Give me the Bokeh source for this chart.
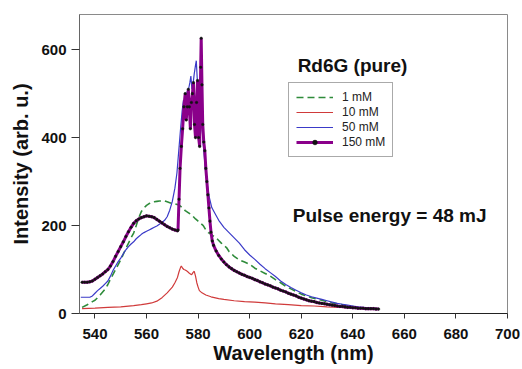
from bokeh.plotting import figure
from bokeh.models import Range1d, FixedTicker, Legend, LegendItem, Label
from bokeh.embed import file_html
from bokeh.resources import INLINE

# ---- data ----
wl_1mM = [535, 537, 539, 540, 542, 544, 545, 546, 548, 550, 552, 554, 555, 556, 557, 558, 559, 560,
          561, 562, 563, 564, 565, 566, 567, 568, 569, 570, 571, 572, 573, 574, 575, 576, 577, 578,
          579, 580, 581, 582, 583, 584, 585, 586, 587, 588, 589, 590, 591, 592, 594, 596, 598, 600,
          602, 604, 606, 608, 610, 612, 614, 616, 618, 620, 622, 624, 626, 628, 630, 632, 634, 636,
          638, 640, 642, 644, 646, 648, 650]
int_1mM = [14, 20, 27, 30, 42, 56, 66, 78, 100, 122, 148, 172, 183, 200, 218, 232, 240, 246,
           250, 252, 254, 255, 256, 256, 256, 254, 252, 250, 249, 248, 245, 240, 234, 230, 226, 221,
           215, 210, 205, 200, 190, 184, 180, 176, 172, 166, 160, 155, 150, 141, 130, 122, 117, 112,
           103, 97, 91, 85, 77, 70, 62, 56, 50, 44, 40, 36, 33, 30, 27, 24, 22, 20,
           17, 16, 14, 13, 12, 12, 11]

wl_10mM = [535, 540, 545, 550, 555, 558, 560, 562, 564, 566, 568, 570, 571, 572, 572.6, 573.2, 573.5,
           574, 574.5, 575, 575.5, 576, 576.5, 577, 577.5, 578, 578.5, 579, 579.5, 580, 580.5, 581.5,
           583, 585, 588, 590, 594, 598, 602, 606, 610, 615, 620, 625, 630, 635, 640, 645, 650]
int_10mM = [11, 12, 14, 15, 18, 20, 22, 24, 28, 36, 47, 60, 70, 82, 95, 105, 108,
            103, 100, 99, 97, 95, 92, 90, 88, 93, 96, 85, 70, 60, 52, 47,
            42, 38, 34, 32, 29, 27, 26, 24, 22, 20, 18, 17, 15, 14, 13, 12, 11]

wl_50mM = [534.5, 536, 538, 539, 540, 541, 542, 543, 544, 545, 546, 547, 548, 549, 550, 551, 552, 553,
           554, 555, 556, 557, 558, 559, 560, 561, 562, 563, 564, 565, 566, 567, 568, 569, 570, 571,
           571.8, 572.5, 573.2, 573.8, 574.3, 574.8, 575.3, 575.8, 576.3, 576.8, 577.2, 577.6, 578,
           578.5, 579, 579.3, 579.7, 580.2, 580.7, 581.2, 581.7, 582.2, 582.8, 583.5, 584.3, 585.3,
           586.5, 588, 590, 592, 594, 596, 598, 600, 602, 604, 606, 608, 610, 612, 614, 616, 618,
           620, 622, 624, 626, 628, 630, 632, 634, 636, 638, 640, 642, 644, 646, 648, 650]
int_50mM = [37, 37, 37, 40, 46, 52, 57, 62, 68, 74, 85, 98, 108, 118, 126, 136, 145, 152,
            158, 163, 170, 175, 180, 184, 187, 190, 193, 196, 199, 203, 207, 212, 220, 235, 255, 285,
            320, 370, 420, 460, 485, 480, 490, 505, 510, 525, 540, 510, 520,
            545, 565, 575, 530, 470, 450, 440, 410, 370, 330, 295, 265, 241,
            228, 212, 196, 184, 172, 160, 145, 133, 123, 112, 102, 93, 84, 74, 66, 59, 53,
            47, 42, 38, 35, 32, 29, 26, 23, 21, 19, 17, 15, 14, 13, 12, 11]

wl_150mM = [535, 536, 537, 538, 539, 540, 541, 542, 543, 544, 545, 546, 547, 548, 549, 550, 551, 552,
            553, 554, 555, 556, 557, 558, 559, 560, 561, 562, 563, 564, 565, 566, 567, 568, 569, 570,
            571, 572, 572.2, 572.6, 573.0, 573.5, 574.0, 574.5, 575.0, 575.4, 575.8, 576.2, 576.6,
            577.0, 577.4, 577.8, 578.2, 578.6, 579.0, 579.4, 579.8, 580.2, 580.6, 581.0, 581.2,
            581.5, 581.8, 582.2, 582.6, 583.0, 583.4, 583.8, 584.2, 584.6, 585.0, 585.5,
            586, 587, 588, 589, 590, 591, 592, 593, 594, 595, 596, 597, 598, 599, 600, 601, 602,
            603, 604, 605, 606, 607, 608, 609, 610, 611, 612, 613, 614, 615, 616, 617, 618, 619,
            620, 621, 622, 623, 624, 625, 626, 627, 628, 629, 630, 631, 632, 633, 634, 635, 636,
            637, 638, 639, 640, 641, 642, 643, 644, 645, 646, 647, 648, 649, 650]
int_150mM = [71, 71, 71, 72, 74, 78, 82, 86, 90, 95, 100, 108, 118, 130, 141, 152, 163, 175,
             186, 196, 205, 211, 215, 218, 220, 222, 221, 220, 218, 214, 210, 206, 202, 198, 195, 192,
             190, 188, 190, 260, 330, 380, 420, 470, 500, 440, 470, 510, 470,
             420, 480, 500, 525, 430, 400, 480, 530, 400, 380, 560, 626,
             520, 430, 390, 370, 330, 300, 270, 240, 210, 185, 165,
             155, 142, 132, 124, 117, 111, 106, 102, 98, 95, 92, 89, 87, 84, 82, 80, 77,
             75, 72, 70, 67, 65, 63, 60, 58, 56, 53, 51, 49, 46, 44, 42, 40, 37,
             35, 33, 31, 29, 28, 27, 25, 24, 23, 22, 21, 20, 19, 18, 17, 16, 16,
             15, 14, 14, 13, 13, 12, 12, 12, 11, 11, 11, 11, 10, 10]

x_ticks = [540, 560, 580, 600, 620, 640, 660, 680, 700]
y_ticks = [0, 200, 400, 600]

FONT = "Liberation Sans"

p = figure(width=522, height=369, output_backend="svg", toolbar_location=None,
           x_range=Range1d(534, 700), y_range=Range1d(0, 680),
           min_border_left=79, min_border_right=15, min_border_top=14, min_border_bottom=56)
p.background_fill_color = "white"
p.border_fill_color = "white"
p.xgrid.visible = False
p.ygrid.visible = False
p.outline_line_color = "#8a8a8a"
p.outline_line_width = 1

# axes
p.xaxis.ticker = FixedTicker(ticks=x_ticks)
p.yaxis.ticker = FixedTicker(ticks=y_ticks)
for ax in (p.xaxis[0], p.yaxis[0]):
    ax.major_label_text_font = FONT
    ax.major_label_text_font_style = "bold"
    ax.major_label_text_font_size = "15px"
    ax.major_label_text_color = "#111111"
    ax.axis_label_text_font = FONT
    ax.axis_label_text_font_style = "bold"
    ax.axis_label_text_font_size = "20px"
    ax.axis_label_text_color = "#111111"
    ax.minor_tick_line_color = None
    ax.major_tick_in = 0
    ax.major_tick_line_color = "#333333"
p.xaxis.axis_label = "Wavelength (nm)"
p.yaxis.axis_label = "Intensity (arb. u.)"
p.xaxis.axis_line_color = "#222222"
p.yaxis.axis_line_color = "#666666"
p.xaxis.major_tick_out = 5
p.yaxis.major_tick_out = 8
p.xaxis.major_label_standoff = 10
p.xaxis.axis_label_standoff = 0
p.yaxis.major_label_standoff = 5
p.yaxis.axis_label_standoff = 6

# curves
r1 = p.line(wl_1mM, int_1mM, line_color="#2e8b3a", line_width=1.6, line_dash="7 4")
r2 = p.line(wl_10mM, int_10mM, line_color="#d03a3a", line_width=1.2)
r3 = p.line(wl_50mM, int_50mM, line_color="#3a3ac8", line_width=1.2)
r4 = p.line(wl_150mM, int_150mM, line_color="#8a008a", line_width=3.0)
r4m = p.scatter(wl_150mM, int_150mM, marker="circle", size=2.6,
                fill_color="#111111", line_color="#111111", line_width=0.4)

legend = Legend(items=[
    LegendItem(label="1 mM", renderers=[r1]),
    LegendItem(label="10 mM", renderers=[r2]),
    LegendItem(label="50 mM", renderers=[r3]),
    LegendItem(label="150 mM", renderers=[r4, r4m]),
], location=(209, 156))
legend.label_text_font = FONT
legend.label_text_font_size = "12px"
legend.label_text_color = "#222222"
legend.glyph_width = 37
legend.glyph_height = 12
legend.label_height = 12
legend.label_standoff = 9
legend.spacing = 1
legend.padding = 7
legend.margin = 0
legend.border_line_color = "#555555"
legend.border_line_width = 1
legend.background_fill_alpha = 1
p.add_layout(legend, "center")

p.add_layout(Label(x=618.6, y=539, text="Rd6G (pure)", text_font=FONT, text_font_style="bold",
                   text_font_size="19px", text_color="#111111"))
p.add_layout(Label(x=616.7, y=199, text="Pulse energy = 48 mJ", text_font=FONT,
                   text_font_style="bold", text_font_size="19px", text_color="#111111"))

open("out.html", "w").write(file_html(p, INLINE))
